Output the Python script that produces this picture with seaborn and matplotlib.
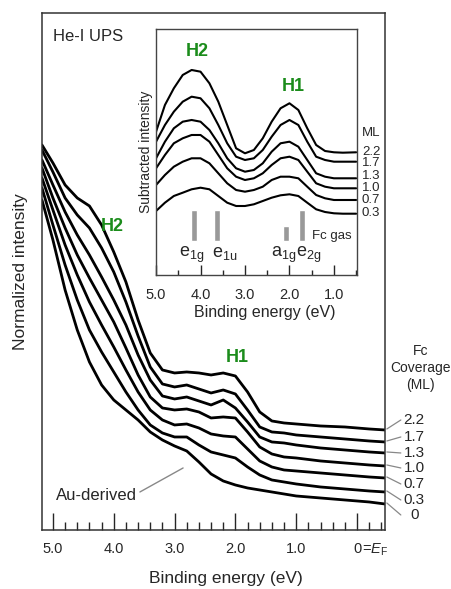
import pandas as pd
import matplotlib
matplotlib.use("Agg")
import matplotlib.pyplot as plt
from matplotlib.ticker import MultipleLocator
import seaborn as sns

sns.set_style("ticks")
plt.rcParams["font.family"] = ["Liberation Sans", "DejaVu Sans"]
plt.rcParams["mathtext.fontset"] = "custom"
plt.rcParams["mathtext.rm"] = "Liberation Sans"
plt.rcParams["mathtext.it"] = "Liberation Sans:italic"

# main UPS spectra (binding energy in eV, intensity in arb. units)
coverage = ["2.2", "1.7", "1.3", "1.0", "0.7", "0.3", "0"]
energy = [5.18, 5.0, 4.8, 4.6, 4.4, 4.2, 4.0, 3.8, 3.6, 3.4, 3.2, 3.0, 2.8,
          2.6, 2.4, 2.2, 2.0, 1.8, 1.6, 1.4, 1.2, 1.0, 0.6, 0.2, -0.2, -0.46]
ups_22 = [385, 367, 345, 332, 324, 305, 278, 248, 210, 177, 160, 157, 158,
          157, 155, 157, 154, 138, 118, 109, 107, 106, 104, 103, 101, 100]
ups_17 = [380, 358, 332, 315, 302, 282, 258, 228, 194, 163, 146, 143, 145,
          141, 137, 140, 136, 120, 103, 98, 97, 95, 93, 91, 89, 88]
ups_13 = [370, 345, 318, 295, 275, 253, 230, 205, 175, 150, 134, 131, 133,
          129, 125, 130, 122, 108, 93, 88, 87, 85, 82, 80, 78, 77]
ups_10 = [362, 332, 302, 275, 252, 230, 208, 182, 155, 133, 122, 120, 121,
          118, 112, 113, 112, 98, 83, 76, 73, 72, 69, 67, 65, 64]
ups_07 = [352, 320, 285, 255, 228, 205, 183, 160, 138, 120, 110, 105, 106,
          102, 96, 94, 93, 81, 69, 63, 60, 59, 57, 55, 53, 52]
ups_03 = [342, 305, 265, 230, 200, 178, 158, 138, 120, 105, 97, 93, 93,
          85, 78, 75, 72, 63, 55, 50, 48, 46, 43, 41, 39, 38]
ups_00 = [330, 290, 240, 200, 168, 145, 130, 120, 110, 98, 90, 84, 79,
          68, 56, 49, 45, 42, 40, 38, 36, 34, 32, 30, 28, 26]
label_y = [110, 93, 77, 62, 46, 30, 15]

# subtracted spectra (inset)
sub_coverage = ["2.2", "1.7", "1.3", "1.0", "0.7", "0.3"]
sub_energy = [5.0, 4.8, 4.6, 4.4, 4.2, 4.0, 3.8, 3.6, 3.4, 3.2, 3.0, 2.8,
              2.6, 2.4, 2.2, 2.0, 1.8, 1.6, 1.4, 1.2, 1.0, 0.8, 0.5]
sub_22 = [93.3, 120.0, 136.7, 150.0, 155.0, 153.3, 141.7, 123.3, 100.0, 76.7,
          71.7, 75.0, 86.7, 103.3, 116.7, 121.7, 115.0, 96.7, 80.0, 74.0,
          72.7, 72.3, 72.7]
sub_17 = [83.3, 100.0, 113.3, 123.3, 128.3, 126.7, 116.7, 100.0, 81.7, 68.3,
          65.0, 66.7, 75.0, 88.3, 100.0, 105.0, 100.0, 83.3, 68.3, 65.0,
          63.3, 63.3, 63.3]
sub_13 = [66.7, 83.3, 96.7, 103.3, 105.0, 103.3, 95.0, 81.7, 66.7, 56.7,
          53.3, 55.0, 61.7, 73.3, 81.7, 83.3, 78.3, 65.0, 51.7, 48.3,
          46.7, 46.7, 46.7]
sub_10 = [56.7, 70.0, 81.7, 86.7, 90.0, 90.0, 83.3, 70.0, 56.7, 48.3,
          45.0, 46.7, 51.7, 60.0, 66.7, 68.3, 65.0, 53.3, 41.7, 38.3,
          36.7, 36.7, 36.7]
sub_07 = [40.0, 50.0, 58.3, 63.3, 66.7, 66.7, 61.7, 51.7, 41.7, 35.0,
          33.3, 35.0, 38.3, 45.0, 48.3, 48.3, 46.7, 38.3, 30.0, 26.7,
          25.0, 25.0, 25.0]
sub_03 = [14.0, 22.3, 29.0, 32.3, 35.7, 37.3, 35.7, 29.0, 22.3, 19.0,
          19.0, 20.7, 24.0, 27.3, 29.7, 30.7, 29.0, 22.3, 15.7, 13.0,
          11.7, 11.3, 11.3]
sub_label_y = [73, 62, 49, 37, 25, 12]

# Fc gas-phase levels
gas_levels = ["e$_{\\rm 1g}$", "e$_{\\rm 1u}$", "a$_{\\rm 1g}$", "e$_{\\rm 2g}$"]
gas_energy = [4.15, 3.63, 2.08, 1.72]
gas_height = [31, 31, 15, 31]
gas_label_x = [4.2, 3.45, 2.12, 1.56]

rows = []
for cov, vals in zip(coverage, [ups_22, ups_17, ups_13, ups_10, ups_07, ups_03, ups_00]):
    for e, v in zip(energy, vals):
        rows.append({"energy": e, "intensity": v, "coverage": cov})
ups = pd.DataFrame(rows)

rows = []
for cov, vals in zip(sub_coverage, [sub_22, sub_17, sub_13, sub_10, sub_07, sub_03]):
    for e, v in zip(sub_energy, vals):
        rows.append({"energy": e, "intensity": v, "coverage": cov})
sub = pd.DataFrame(rows)

green = "#1b8c1b"

fig = plt.figure(figsize=(4.51, 5.89), dpi=100)
ax = fig.add_axes([0.0931, 0.1002, 0.7606, 0.8778])

sns.lineplot(data=ups, x="energy", y="intensity", hue="coverage",
             palette=["black"] * 7, legend=False, sort=False,
             estimator=None, lw=2.0, ax=ax)

ax.set_xlim(5.18, -0.46)
ax.set_ylim(0, 517)
ax.set_yticks([])
ax.set_xticks([5, 4, 3, 2, 1, 0])
ax.set_xticklabels(["5.0", "4.0", "3.0", "2.0", "1.0", "0"], fontsize=10.5)
ax.xaxis.set_minor_locator(MultipleLocator(0.2))
ax.tick_params(axis="x", which="major", direction="in", length=12, width=1, pad=8.5)
ax.tick_params(axis="x", which="minor", direction="in", length=6, width=1)
ax.text(-0.08, -0.0225, "=$\\mathit{E}_{\\rm F}$", transform=ax.get_xaxis_transform(),
        ha="left", va="top", fontsize=10.5)
for s in ax.spines.values():
    s.set_visible(True)
    s.set_linewidth(1.1)
    s.set_color("#333333")

ax.set_xlabel("Binding energy (eV)", fontsize=12.5)
ax.xaxis.set_label_coords(0.536, -0.079)
ax.set_ylabel("Normalized intensity", fontsize=12.5)
ax.yaxis.set_label_coords(-0.041, 0.5)

ax.text(5.0, 493, "He-I UPS", fontsize=12, va="center", ha="left")
ax.text(4.03, 303, "H2", color=green, fontsize=13, fontweight="bold", ha="center", va="center")
ax.text(1.97, 172, "H1", color=green, fontsize=13, fontweight="bold", ha="center", va="center")
ax.text(4.28, 34, "Au-derived", fontsize=12, ha="center", va="center")
ax.plot([3.57, 2.86], [38, 62], color="#888888", lw=1)

ends = [ups_22[-1], ups_17[-1], ups_13[-1], ups_10[-1], ups_07[-1], ups_03[-1], ups_00[-1]]
for cov, yl, ye in zip(coverage, label_y, ends):
    ax.plot([-0.49, -0.72], [ye + 1, yl], color="#888888", lw=0.9, clip_on=False)
    ax.text(-0.94, yl, cov, fontsize=11, ha="center", va="center", clip_on=False)
ax.text(-1.04, 162, "Fc\nCoverage\n(ML)", fontsize=10, ha="center", va="center",
        linespacing=1.3)

# inset
ins = fig.add_axes([0.346, 0.5331, 0.4457, 0.4177])
sns.lineplot(data=sub, x="energy", y="intensity", hue="coverage",
             palette=["black"] * 6, legend=False, sort=False,
             estimator=None, lw=1.5, ax=ins)
ins.bar(gas_energy, gas_height, bottom=-16, width=0.13, color="#999999")
for lab, x in zip(gas_levels, gas_label_x):
    ins.text(x, -32, lab, fontsize=13, ha="center", va="baseline")
ins.text(1.49, -11, "Fc gas", fontsize=9.5, ha="left", va="center")
ins.text(4.08, 173, "H2", color=green, fontsize=13, fontweight="bold", ha="center", va="center")
ins.text(1.92, 138, "H1", color=green, fontsize=13, fontweight="bold", ha="center", va="center")

ins.set_xlim(5.0, 0.48)
ins.set_ylim(-50, 196)
ins.set_yticks([])
ins.set_xticks([5, 4, 3, 2, 1])
ins.set_xticklabels(["5.0", "4.0", "3.0", "2.0", "1.0"], fontsize=10.5)
ins.xaxis.set_minor_locator(MultipleLocator(0.5))
ins.tick_params(axis="x", which="major", direction="in", length=7, width=1, pad=9)
ins.tick_params(axis="x", which="minor", direction="in", length=3.5, width=1)
for s in ins.spines.values():
    s.set_visible(True)
    s.set_linewidth(1)
    s.set_color("#444444")
ins.set_xlabel("Binding energy (eV)", fontsize=11.5)
ins.xaxis.set_label_coords(0.54, -0.122)
ins.set_ylabel("Subtracted intensity", fontsize=10)
ins.yaxis.set_label_coords(-0.015, 0.5)

ins.text(0.165, 92, "ML", fontsize=9.5, ha="center", va="center", clip_on=False)
for cov, yl in zip(sub_coverage, sub_label_y):
    ins.text(0.165, yl, cov, fontsize=9.5, ha="center", va="center", clip_on=False)

plt.savefig("out.png", dpi=100)
